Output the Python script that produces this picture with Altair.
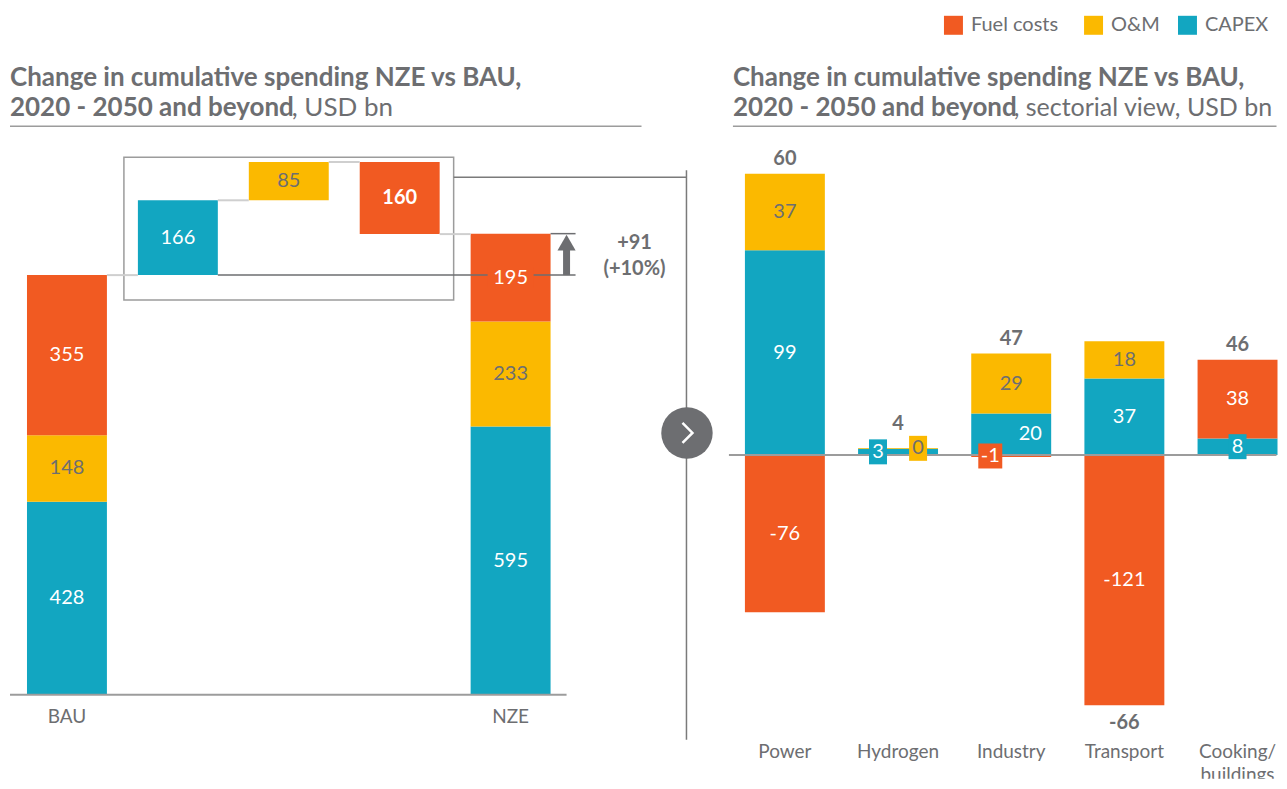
import altair as alt
import pandas as pd

# ---------------- data ----------------
components = ["Fuel costs", "O&M", "CAPEX"]
component_colors = ["#F15A22", "#FBB900", "#12A6C1"]

scenarios = ["BAU", "NZE"]
scenario_capex = [428, 595]
scenario_om = [148, 233]
scenario_fuel = [355, 195]

bridge_components = ["CAPEX", "O&M", "Fuel costs"]
bridge_steps = [166, 85, -160]

change_abs = 91
change_pct = 10

sectors = ["Power", "Hydrogen", "Industry", "Transport", "Cooking/buildings"]
sector_capex = [99, 3, 20, 37, 8]
sector_om = [37, 0.4, 29, 18, 0]
sector_fuel = [-76, 0, -1, -121, 38]
sector_net = [60, 4, 47, -66, 46]

# ---------------- style ----------------
FONT = "Lato"
GRAY = "#6D6E71"
LINE = "#9C9C9C"
LIGHT = "#CFCFCF"
WHITE = "#FFFFFF"
LBL = 20
TITLE = 26
color_scale = alt.Scale(domain=components, range=component_colors)
one = pd.DataFrame({"d": [0]})


def txt_color(comp):
    return GRAY if comp == "O&M" else WHITE


def note(text, x, y, size=LBL, weight="normal", align="left", color=GRAY):
    return alt.Chart(one).mark_text(
        text=text, align=align, baseline="middle", font=FONT, fontSize=size,
        fontWeight=weight, color=color
    ).encode(x=alt.value(x), y=alt.value(y))


def hrule(x1, x2, y, color=LINE, w=1.5):
    return alt.Chart(one).mark_rule(color=color, strokeWidth=w).encode(
        x=alt.value(x1), x2=alt.value(x2), y=alt.value(y))


def box_shape(half_w_px, half_h_px):
    r = half_w_px / half_h_px
    return f"M{-r:.3f},-1H{r:.3f}V1H{-r:.3f}Z", (2 * half_h_px) ** 2


# ================= LEFT PANEL =================
LW, LH = 708, 687
L_STEP, L_FIRST = 111.0, 59.0
K_L = 0.4511
HW_L = 40 / L_STEP
xsL = alt.Scale(domain=[-L_FIRST / L_STEP, (LW - L_FIRST) / L_STEP], nice=False, zero=False)
ysL = alt.Scale(domain=[0, LH / K_L], nice=False, zero=False)

rows = []
totals = {}
for s_i, (scen, pos) in enumerate(zip(scenarios, [0, 4])):
    base = 0
    for comp, vals in (("CAPEX", scenario_capex), ("O&M", scenario_om), ("Fuel costs", scenario_fuel)):
        v = vals[s_i]
        rows.append(dict(comp=comp, xc=pos, y0=base, y1=base + v, label=f"{v:.0f}", bold=0,
                         boxed=int(scen == "NZE" and comp == "Fuel costs")))
        base += v
    totals[scen] = base
level = totals["BAU"]
conn = [dict(xa=0 + HW_L, xb=1 - HW_L, y=level)]
for j, (comp, step) in enumerate(zip(bridge_components, bridge_steps)):
    rows.append(dict(comp=comp, xc=j + 1, y0=level, y1=level + step,
                     label=f"{abs(step):.0f}", bold=int(comp == "Fuel costs"), boxed=0))
    level += step
    conn.append(dict(xa=j + 1 + HW_L, xb=j + 2 - HW_L, y=level))
dfL = pd.DataFrame(rows)
dfL["x0"] = dfL.xc - HW_L
dfL["x1"] = dfL.xc + HW_L
dfL["ym"] = (dfL.y0 + dfL.y1) / 2
dfL["tcol"] = dfL.comp.map(txt_color)
dfLn = dfL[dfL.bold == 0]
dfLb = dfL[dfL.bold == 1]
dfLbox = dfL[dfL.boxed == 1]
dfConn = pd.DataFrame(conn)
dfScen = pd.DataFrame({"xc": [0, 4], "name": scenarios})

ARROW_X = (567 - 67) / L_STEP
TICK_END = (576 - 67) / L_STEP
TEXT_X = (635 - 67) / L_STEP
dfDark = pd.DataFrame([
    dict(xa=1 + HW_L, xb=TICK_END, y=totals["BAU"]),
    dict(xa=4 + HW_L, xb=TICK_END, y=totals["NZE"]),
])
dfArrow = pd.DataFrame([dict(x=ARROW_X, ya=totals["BAU"], yb=totals["NZE"] - 12 / K_L,
                             yh=totals["NZE"] - 9 / K_L)])
dfChange = pd.DataFrame([dict(x=TEXT_X, y=(totals["BAU"] + totals["NZE"]) / 2,
                              t1=f"+{change_abs}", t2=f"(+{change_pct}%)")])


def XL(f):
    return alt.X(f, type="quantitative", scale=xsL, axis=None)


def YL(f):
    return alt.Y(f, type="quantitative", scale=ysL, axis=None)


barsL = alt.Chart(dfL).mark_rect().encode(
    x=XL("x0"), x2="x1", y=YL("y0"), y2="y1",
    color=alt.Color("comp:N", scale=color_scale, legend=None))
connL = alt.Chart(dfConn).mark_rule(color=LIGHT, strokeWidth=2).encode(
    x=XL("xa"), x2="xb", y=YL("y"))
darkL = alt.Chart(dfDark).mark_rule(color=GRAY, strokeWidth=1.5).encode(
    x=XL("xa"), x2="xb", y=YL("y"))
shpL, szL = box_shape(23, 10)
boxL = alt.Chart(dfLbox).mark_point(shape=shpL, size=szL, filled=True, opacity=1,
                                    strokeWidth=0).encode(
    x=XL("xc"), y=YL("ym"), color=alt.Color("comp:N", scale=color_scale, legend=None))
lblL = alt.Chart(dfLn).mark_text(font=FONT, fontSize=LBL, baseline="middle").encode(
    x=XL("xc"), y=YL("ym"), text="label:N", color=alt.Color("tcol:N", scale=None))
lblLb = alt.Chart(dfLb).mark_text(font=FONT, fontSize=LBL, fontWeight="bold",
                                  baseline="middle").encode(
    x=XL("xc"), y=YL("ym"), text="label:N", color=alt.Color("tcol:N", scale=None))
shaft = alt.Chart(dfArrow).mark_rule(color=GRAY, strokeWidth=7).encode(
    x=XL("x"), y=YL("ya"), y2="yb")
head = alt.Chart(dfArrow).mark_point(shape="triangle-up", filled=True, size=330, color=GRAY,
                                     opacity=1).encode(x=XL("x"), y=YL("yh"))
ch1 = alt.Chart(dfChange).mark_text(font=FONT, fontSize=LBL, fontWeight="bold", color=GRAY,
                                    dy=-11).encode(x=XL("x"), y=YL("y"), text="t1:N")
ch2 = alt.Chart(dfChange).mark_text(font=FONT, fontSize=LBL, fontWeight="bold", color=GRAY,
                                    dy=15).encode(x=XL("x"), y=YL("y"), text="t2:N")
scenL = alt.Chart(dfScen).mark_text(font=FONT, fontSize=19, color=GRAY, baseline="middle").encode(
    x=XL("xc"), y=alt.value(709), text="name:N")

box = alt.Chart(one).mark_rect(fillOpacity=0, stroke=LINE, strokeWidth=1.5).encode(
    x=alt.value(116), x2=alt.value(446), y=alt.value(149), y2=alt.value(292))
boxlink = hrule(446, 679, 169, color="#7A7A7A")
divider = alt.Chart(one).mark_rule(color="#7A7A7A", strokeWidth=1.5).encode(
    x=alt.value(679), y=alt.value(162), y2=alt.value(732))
circle = alt.Chart(one).mark_point(shape="circle", filled=True, size=2650, color=GRAY,
                                   opacity=1).encode(x=alt.value(679.5), y=alt.value(425))
chevron = alt.Chart(one).mark_point(shape="M-0.5,-1L0.5,0L-0.5,1", filled=False, size=400,
                                    color=WHITE, strokeWidth=2.5, opacity=1).encode(
    x=alt.value(680), y=alt.value(425))
baseL = hrule(2, 559, LH, color=LINE, w=2)

titleL = [
    note("Change in cumulative spending NZE vs BAU,", 2, 70, TITLE, "bold"),
    note("2020 - 2050 and beyond", 2, 99.5, TITLE, "bold"),
    note(", USD bn", 284, 99.5, TITLE, "normal"),
    hrule(2, 634, 118, color=LINE, w=1.5),
]

left = alt.layer(
    barsL, box, boxlink, divider, connL, darkL, boxL, lblL, lblLb, shaft, head, ch1, ch2,
    scenL, circle, chevron, baseL, *titleL
).properties(width=LW, height=LH)

# ================= RIGHT PANEL =================
RW, RH = 550, 771
R_STEP, R_FIRST = 113.25, 56.0
K_R = 2.07
ZERO_R = 447
HW_R = 40 / R_STEP
xsR = alt.Scale(domain=[-R_FIRST / R_STEP, (RW - R_FIRST) / R_STEP], nice=False, zero=False)
ysR = alt.Scale(domain=[-(RH - ZERO_R) / K_R, ZERO_R / K_R], nice=False, zero=False)

# label placement tweaks (index-unit x offset, boxed?)
label_style = {
    ("Hydrogen", "CAPEX"): (-0.177, True),
    ("Hydrogen", "O&M"): (0.177, True),
    ("Industry", "CAPEX"): (0.168, False),
    ("Industry", "Fuel costs"): (-0.185, True),
    ("Cooking/buildings", "CAPEX"): (0.0, True),
}
BOX_HALF_H = 12.5

rrows = []
trows = []
for i, sec in enumerate(sectors):
    pos, neg = 0.0, 0.0
    box_top = 0.0
    for comp, vals in (("CAPEX", sector_capex), ("O&M", sector_om), ("Fuel costs", sector_fuel)):
        v = vals[i]
        if v == 0:
            continue
        if v > 0:
            y0, y1 = pos, pos + v
            pos = y1
        else:
            y0, y1 = neg, neg + v
            neg = y1
        dx, boxed = label_style.get((sec, comp), (0.0, False))
        lab = f"{v:.0f}"
        ym = (y0 + y1) / 2
        if boxed and v > 0:
            box_top = max(box_top, ym + BOX_HALF_H / K_R)
        rrows.append(dict(comp=comp, xc=i, x0=i - HW_R, x1=i + HW_R, y0=y0, y1=y1, ym=ym,
                          xl=i + dx, label=lab, boxed=int(boxed), wide=int(len(lab) > 1),
                          tcol=txt_color(comp)))
    net = sector_net[i]
    if net >= 0:
        ty = max(pos + 14.5 / K_R, box_top + 12 / K_R)
    else:
        ty = neg - 17.5 / K_R
    trows.append(dict(xc=i, y=ty, t=f"{net:.0f}", name=sec.replace("/", "/\n")))
dfR = pd.DataFrame(rrows)
dfT = pd.DataFrame(trows)
dfBoxN = dfR[(dfR.boxed == 1) & (dfR.wide == 0)]
dfBoxW = dfR[(dfR.boxed == 1) & (dfR.wide == 1)]
dfZero = pd.DataFrame({"y": [0]})


def XR(f):
    return alt.X(f, type="quantitative", scale=xsR, axis=None)


def YR(f):
    return alt.Y(f, type="quantitative", scale=ysR, axis=None)


barsR = alt.Chart(dfR).mark_rect().encode(
    x=XR("x0"), x2="x1", y=YR("y0"), y2="y1",
    color=alt.Color("comp:N", scale=color_scale, legend=None))
zeroR = alt.Chart(dfZero).mark_rule(color=LINE, strokeWidth=2).encode(
    x=alt.value(0), x2=alt.value(RW - 2), y=YR("y"))


def boxes(df, half_w):
    shp, sz = box_shape(half_w, BOX_HALF_H)
    return alt.Chart(df).mark_point(shape=shp, filled=True, size=sz, opacity=1,
                                    strokeWidth=0).encode(
        x=XR("xl"), y=YR("ym"), color=alt.Color("comp:N", scale=color_scale, legend=None))


boxN = boxes(dfBoxN, 9)
boxW = boxes(dfBoxW, 12)
lblR = alt.Chart(dfR).mark_text(font=FONT, fontSize=LBL, baseline="middle").encode(
    x=XR("xl"), y=YR("ym"), text="label:N", color=alt.Color("tcol:N", scale=None))
totR = alt.Chart(dfT).mark_text(font=FONT, fontSize=LBL, fontWeight="bold", color=GRAY,
                                baseline="middle").encode(x=XR("xc"), y=YR("y"), text="t:N")
catR = alt.Chart(dfT).mark_text(font=FONT, fontSize=19, color=GRAY, baseline="middle",
                                lineBreak="\n", lineHeight=23, clip=True).encode(
    x=XR("xc"), y=alt.value(744), text="name:N")

titleR = [
    note("Change in cumulative spending NZE vs BAU,", 4, 70, TITLE, "bold"),
    note("2020 - 2050 and beyond", 4, 99.5, TITLE, "bold"),
    note(", sectorial view, USD bn", 285, 99.5, 25, "normal"),
    hrule(4, RW - 2, 118, color=LINE, w=1.5),
]

# legend (drawn with the same component colours)
LEG_SYM_X = [224.7, 364.9, 458.9]
LEG_Y = 17
legend_layers = []
for name, col, sx in zip(components, component_colors, LEG_SYM_X):
    legend_layers.append(alt.Chart(one).mark_square(size=361, color=col, opacity=1).encode(
        x=alt.value(sx), y=alt.value(LEG_Y)))
    legend_layers.append(note(name, sx + 17.5, LEG_Y, 20, "normal"))

right = alt.layer(barsR, zeroR, boxN, boxW, lblR, totR, catR, *titleR, *legend_layers).properties(
    width=RW, height=RH)

chart = alt.hconcat(left, right, spacing=12.5, padding=0).configure_view(stroke=None)

chart.save("out.html", embed_options={"renderer": "svg", "actions": False})
